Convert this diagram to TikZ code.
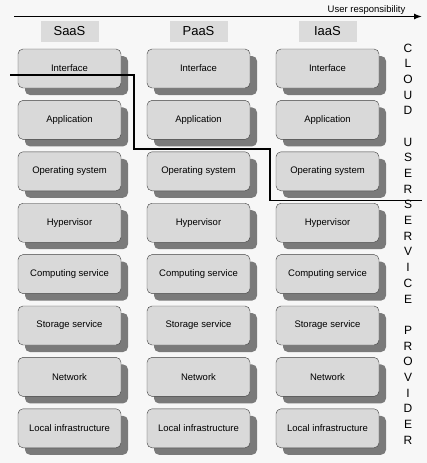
\documentclass[tikz,border=0pt]{standalone}
\usepackage{fontspec}
\setmainfont{Liberation Sans}
\usetikzlibrary{positioning,arrows.meta,shadows}

\tikzset{
  layerbox/.style={draw=black!75, fill=black!15, rounded corners=5pt,
    minimum width=103pt, minimum height=39pt, inner sep=0pt,
    font=\fontsize{9.5}{11}\selectfont,
    drop shadow={shadow xshift=7pt, shadow yshift=-7pt, fill=black!52, opacity=1}},
  headbox/.style={fill=black!14, minimum width=58pt, minimum height=21pt,
    inner sep=0pt, font=\fontsize{13}{15}\selectfont},
  sideletter/.style={font=\fontsize{12}{13}\selectfont, inner sep=0pt},
  borderline/.style={line width=1.8pt},
}

\begin{document}
\begin{tikzpicture}[x=1pt,y=-1pt]
  \fill[black!3] (0,0) rectangle (427,463);
  \useasboundingbox (0,0) rectangle (427,463);

  % responsibility arrow
  \coordinate (arrstart) at (14,16.5);
  \coordinate (arrend) at (422,16.5);
  \draw[line width=1.4pt,-{Latex[length=8pt,width=6pt]}] (arrstart) -- (arrend);
  \node[anchor=base east, inner sep=0pt, font=\fontsize{9.5}{11}\selectfont] (resp) at (405.5,12.5) {User responsibility};

  % service models and their layers
  \foreach \col/\x/\hd in {saas/69.5/SaaS, paas/198.5/PaaS, iaas/327.5/IaaS} {
    \node[headbox] (\col-head) at (\x,31.5) {\hd};
    \foreach \lay [count=\i from 0] in {Interface, Application, Operating system, Hypervisor,
        Computing service, Storage service, Network, Local infrastructure}
      \node[layerbox] (\col-\i) at (\x,68.5+51.4*\i) {\lay};
  }

  % user / provider border
  \coordinate (b0) at (10,75);
  \coordinate (b1) at (134,75);
  \coordinate (b2) at (134,149);
  \coordinate (b3) at (270,149);
  \coordinate (b4) at (270,200.5);
  \coordinate (b5) at (422,200.5);
  \draw[borderline] (b0) -- (b1) -- (b2) -- (b3) -- (b4) -- (b5);

  % side text
  \foreach \ch/\k in {C/0,L/1,O/2,U/3,D/4,U/6,S/7,E/8,R/9,S/10,E/11,R/12,V/13,I/14,C/15,E/16,
      P/18,R/19,O/20,V/21,I/22,D/23,E/24,R/25}
    \node[sideletter] (side-\k) at (408,48+15.68*\k) {\ch};
\end{tikzpicture}
\end{document}
